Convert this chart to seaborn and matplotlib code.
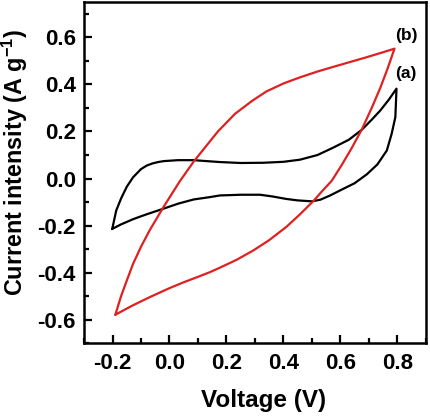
import matplotlib

matplotlib.use("Agg")
import matplotlib.pyplot as plt
import pandas as pd
import seaborn as sns
from matplotlib.ticker import MultipleLocator

# CV loop (a): anodic sweep then cathodic sweep, closed
volt_a = [-0.201, -0.194, -0.187, -0.170, -0.150, -0.128, -0.100, -0.080, -0.060, -0.040,
          -0.020, 0.030, 0.085, 0.130, 0.177, 0.250, 0.330, 0.400, 0.458, 0.520,
          0.576, 0.630, 0.675, 0.710, 0.740, 0.770, 0.797,
          0.795, 0.793, 0.780, 0.763, 0.730, 0.693, 0.650, 0.600, 0.564, 0.530,
          0.500, 0.450, 0.411, 0.360, 0.318, 0.250, 0.177, 0.142, 0.085, 0.030,
          -0.023, -0.080, -0.126, -0.170, -0.201]
curr_a = [-0.214, -0.175, -0.136, -0.085, -0.035, 0.005, 0.040, 0.055, 0.064, 0.070,
          0.074, 0.078, 0.078, 0.074, 0.070, 0.066, 0.067, 0.071, 0.080, 0.100,
          0.132, 0.165, 0.207, 0.250, 0.289, 0.335, 0.382,
          0.320, 0.261, 0.190, 0.119, 0.060, 0.018, -0.020, -0.050, -0.072, -0.090,
          -0.097, -0.093, -0.087, -0.076, -0.069, -0.069, -0.072, -0.079, -0.089, -0.107,
          -0.129, -0.152, -0.172, -0.195, -0.214]

# CV loop (b)
volt_b = [-0.190, -0.170, -0.150, -0.128, -0.100, -0.070, -0.023, 0.036, 0.085, 0.130,
          0.170, 0.230, 0.290, 0.340, 0.400, 0.458, 0.520, 0.576, 0.636, 0.693, 0.745, 0.790,
          0.765, 0.740, 0.710, 0.675, 0.640, 0.605, 0.570, 0.535, 0.505, 0.460, 0.411,
          0.350, 0.294, 0.235, 0.177, 0.142, 0.100, 0.050, 0.000, -0.067, -0.130, -0.190]
curr_b = [-0.579, -0.500, -0.434, -0.363, -0.290, -0.221, -0.125, -0.012, 0.072, 0.140,
          0.200, 0.275, 0.330, 0.370, 0.404, 0.430, 0.455, 0.475, 0.496, 0.516, 0.535, 0.552,
          0.465, 0.385, 0.300, 0.208, 0.130, 0.058, -0.009, -0.055, -0.096, -0.150, -0.205,
          -0.262, -0.306, -0.346, -0.379, -0.398, -0.418, -0.441, -0.466, -0.503, -0.540, -0.579]

df = pd.concat([
    pd.DataFrame({"voltage": volt_a, "current": curr_a, "sample": "a"}),
    pd.DataFrame({"voltage": volt_b, "current": curr_b, "sample": "b"}),
], ignore_index=True)

sns.set_theme(style="ticks")
plt.rcParams["font.family"] = ["Liberation Sans", "DejaVu Sans"]
plt.rcParams["font.weight"] = "bold"
plt.rcParams["axes.unicode_minus"] = False
plt.rcParams["mathtext.fontset"] = "custom"
plt.rcParams["mathtext.bf"] = "Liberation Sans:bold"
plt.rcParams["mathtext.rm"] = "Liberation Sans:bold"
plt.rcParams["mathtext.default"] = "bf"
for key in ("text.color", "axes.labelcolor", "xtick.color", "ytick.color", "axes.edgecolor"):
    plt.rcParams[key] = "black"

fig = plt.figure(figsize=(4.31, 4.18), dpi=100)
ax = fig.add_axes([0.195, 0.179, 0.793, 0.816])

for s, col in (("a", "black"), ("b", "#e02020")):
    sns.lineplot(data=df[df["sample"] == s], x="voltage", y="current", sort=False,
                 estimator=None, color=col, linewidth=1.6, ax=ax)

ax.set_xlim(-0.3, 0.9)
ax.set_ylim(-0.7, 0.75)
ax.set_xticks([-0.2, 0.0, 0.2, 0.4, 0.6, 0.8])
ax.set_yticks([-0.6, -0.4, -0.2, 0.0, 0.2, 0.4, 0.6])
ax.xaxis.set_minor_locator(MultipleLocator(0.1))
ax.yaxis.set_minor_locator(MultipleLocator(0.1))
ax.tick_params(which="both", direction="in", width=1.6, labelsize=16)
ax.tick_params(which="major", length=6)
ax.tick_params(which="minor", length=3.5)
ax.tick_params(axis="x", pad=7)
ax.tick_params(axis="y", pad=6)
for sp in ax.spines.values():
    sp.set_linewidth(1.8)
    sp.set_visible(True)

ax.set_xlabel("Voltage (V)", fontsize=17.5, fontweight="bold")
ax.set_ylabel(r"Current intensity (A g$^{-1}$)", fontsize=16.8, fontweight="bold")
ax.xaxis.set_label_coords(0.525, -0.135)
ax.yaxis.set_label_coords(-0.158, 0.531)

ax.text(0.833, 0.609, "(b)", fontsize=12.5, fontweight="bold", ha="center", va="center")
ax.text(0.828, 0.447, "(a)", fontsize=12.5, fontweight="bold", ha="center", va="center")

fig.savefig("out.png", dpi=100, facecolor="white")
